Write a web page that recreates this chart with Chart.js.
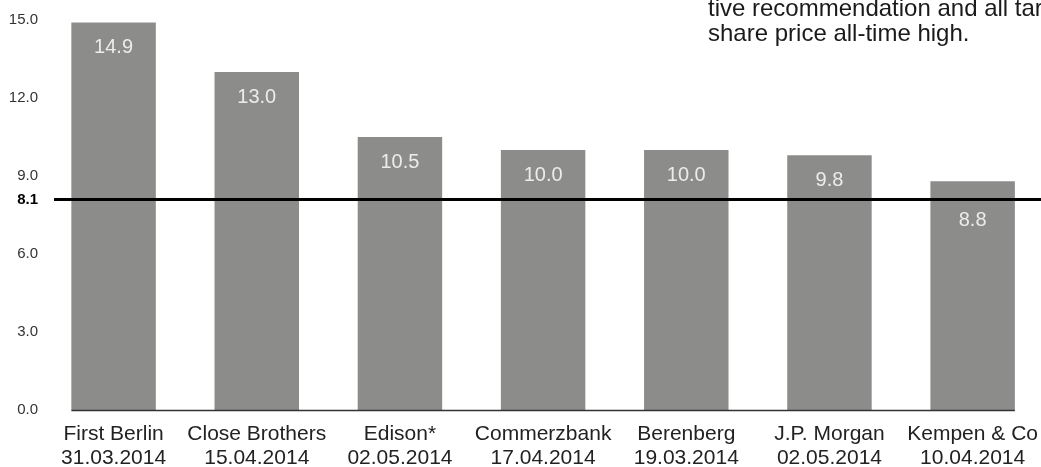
<!DOCTYPE html>
<html>
<head>
<meta charset="utf-8">
<script src="https://cdn.jsdelivr.net/npm/chart.js@4.4.1/dist/chart.umd.min.js"></script>
<style>
  html, body { margin: 0; padding: 0; background: #fff; overflow: hidden; }
  #wrap { position: relative; width: 1050px; height: 467px; }
</style>
</head>
<body>
<div id="wrap"><canvas id="chart" width="1050" height="467"></canvas></div>
<script>
// Analyst target prices (EUR)
const brokers = ['First Berlin', 'Close Brothers', 'Edison*', 'Commerzbank', 'Berenberg', 'J.P. Morgan', 'Kempen & Co'];
const dates = ['31.03.2014', '15.04.2014', '02.05.2014', '17.04.2014', '19.03.2014', '02.05.2014', '10.04.2014'];
const targetPrices = [14.9, 13.0, 10.5, 10.0, 10.0, 9.8, 8.8];
const yTicks = [0, 3, 6, 9, 12, 15];
const currentPrice = 8.1;
const noteLines = ['tive recommendation and all tar', 'share price all-time high.'];

const FONT = '"Liberation Sans", Arial, Helvetica, sans-serif';

// reference line, baseline, value labels and side note
const overlay = {
  id: 'overlay',
  afterDatasetsDraw(chart) {
    const c = chart.ctx;
    const y = chart.scales.y;
    const bars = chart.getDatasetMeta(0).data;
    const lineY = y.getPixelForValue(currentPrice);
    const zeroY = y.getPixelForValue(0);

    c.save();
    // baseline under the bars
    const first = bars[0], last = bars[bars.length - 1];
    c.strokeStyle = '#333';
    c.lineWidth = 1.5;
    c.beginPath();
    c.moveTo(first.x - first.width / 2, zeroY + 0.5);
    c.lineTo(last.x + last.width / 2, zeroY + 0.5);
    c.stroke();

    // current share price line
    c.strokeStyle = '#000';
    c.lineWidth = 3;
    c.beginPath();
    c.moveTo(54, lineY);
    c.lineTo(chart.width, lineY);
    c.stroke();

    // values inside the bars
    c.font = '20px ' + FONT;
    c.fillStyle = '#ececec';
    c.textAlign = 'center';
    c.textBaseline = 'middle';
    bars.forEach((bar, i) => {
      let ty = bar.y + 25;
      if (Math.abs(ty - lineY) < 12) ty = lineY + 21;
      c.fillText(targetPrices[i].toFixed(1), bar.x, ty);
    });

    // note text at the top right
    c.font = '24px ' + FONT;
    c.fillStyle = '#1a1a1a';
    c.textAlign = 'left';
    c.textBaseline = 'alphabetic';
    noteLines.forEach((t, i) => c.fillText(t, 708, 16 + i * 25));
    c.restore();
  }
};

new Chart(document.getElementById('chart'), {
  type: 'bar',
  data: {
    labels: brokers.map((b, i) => [b, dates[i]]),
    datasets: [{
      data: targetPrices,
      backgroundColor: '#8c8d8b',
      borderWidth: 0,
      barPercentage: 0.59,
      categoryPercentage: 1.0
    }]
  },
  options: {
    responsive: false,
    animation: false,
    layout: { padding: { top: 20, right: 0, bottom: 0, left: 0 } },
    plugins: {
      legend: { display: false },
      tooltip: { enabled: false }
    },
    scales: {
      x: {
        grid: { display: false, drawTicks: false },
        border: { display: false },
        afterFit: function(scale) { scale.height = 57; },
        ticks: {
          color: '#222',
          padding: 12,
          maxRotation: 0,
          autoSkip: false,
          font: { family: FONT, size: 21, lineHeight: 1.15 }
        }
      },
      y: {
        min: 0,
        max: 15,
        grid: { display: false, drawTicks: false },
        border: { display: false },
        afterFit: function(scale) { scale.width = 42; },
        afterBuildTicks: function(scale) {
          scale.ticks = yTicks.concat([currentPrice]).map(v => ({ value: v }));
        },
        ticks: {
          autoSkip: false,
          padding: 4,
          color: function(ctx) { return ctx.tick && ctx.tick.value === currentPrice ? '#000' : '#333'; },
          font: function(ctx) {
            const bold = ctx.tick && ctx.tick.value === currentPrice;
            return { family: FONT, size: 15, weight: bold ? 'bold' : 'normal' };
          },
          callback: function(value) { return Number(value).toFixed(1); }
        }
      }
    }
  },
  plugins: [overlay]
});
</script>
</body>
</html>
